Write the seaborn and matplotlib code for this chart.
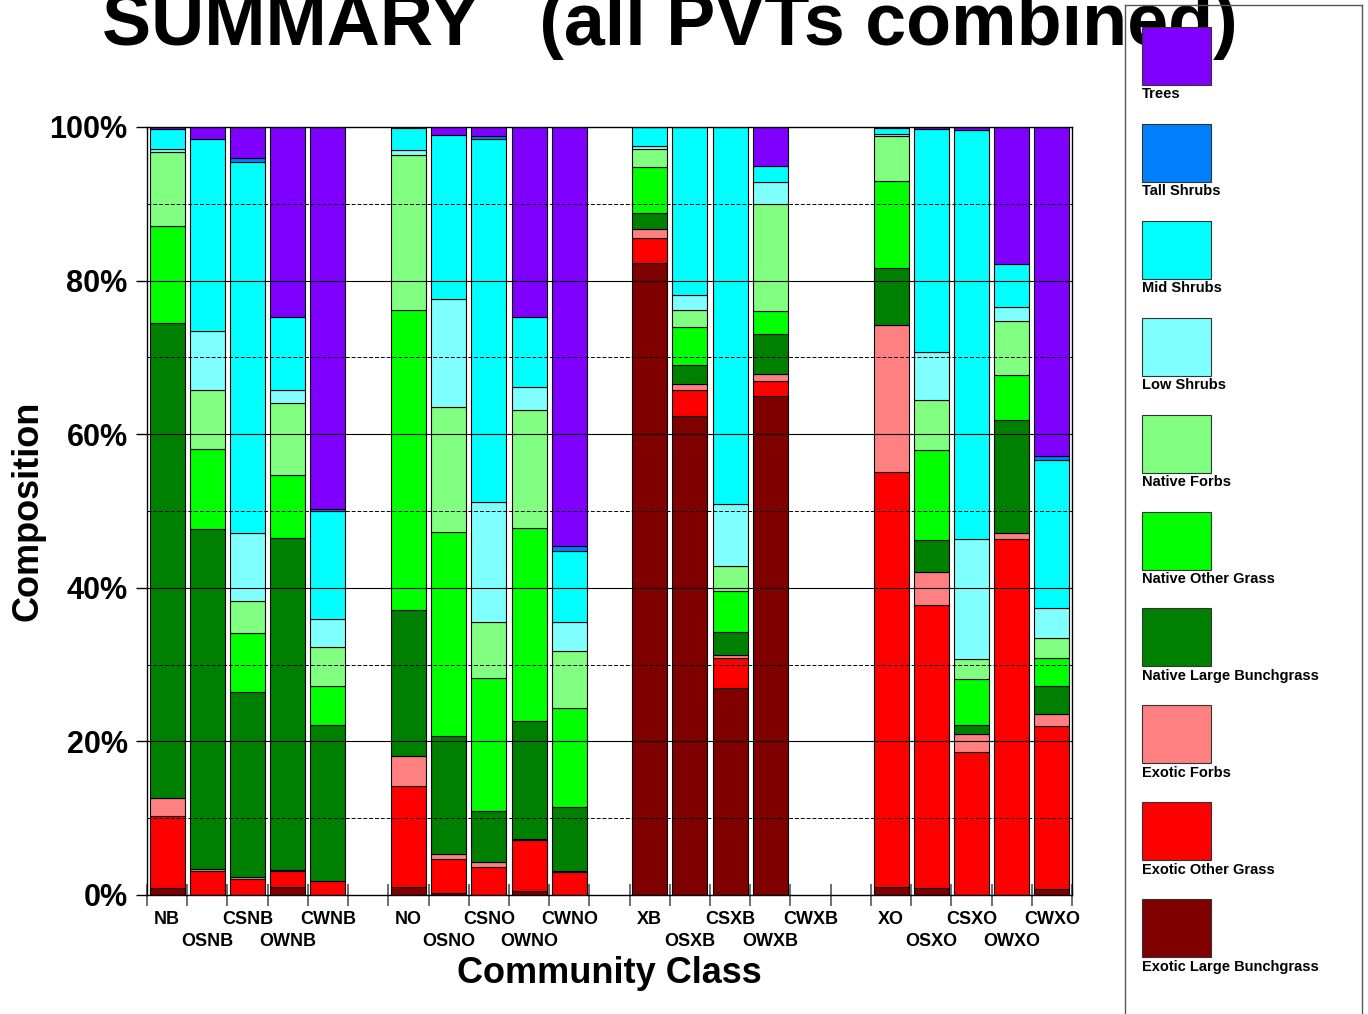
import numpy as np
import pandas as pd
import matplotlib
matplotlib.use("Agg")
import matplotlib.pyplot as plt
import seaborn as sns
from matplotlib.patches import Rectangle

# community classes, 4 groups of 5
classes = ["NB", "OSNB", "CSNB", "OWNB", "CWNB",
           "NO", "OSNO", "CSNO", "OWNO", "CWNO",
           "XB", "OSXB", "CSXB", "OWXB", "CWXB",
           "XO", "OSXO", "CSXO", "OWXO", "CWXO"]

# composition (%) per class, one list per cover type
trees        = [0.2, 1.5, 4.1, 24.8, 49.7, 0.1, 1.0, 1.2, 24.7, 54.5, 0, 0, 0, 5.1, 0, 0.1, 0.3, 0.4, 17.8, 42.9]
tall_shrubs  = [0, 0, 0.5, 0, 0.3, 0, 0, 0.3, 0, 0.7, 0, 0, 0, 0, 0, 0, 0, 0, 0, 0.5]
mid_shrubs   = [2.7, 25.1, 48.2, 9.5, 14.0, 2.9, 21.4, 47.3, 9.2, 9.2, 2.5, 21.9, 49.1, 2.0, 0, 0.8, 29.0, 53.2, 5.7, 19.2]
low_shrubs   = [0.4, 7.7, 8.9, 1.6, 3.7, 0.7, 14.1, 15.6, 2.9, 3.8, 0.3, 1.9, 8.1, 2.9, 0, 0.3, 6.3, 15.7, 1.8, 3.9]
native_forbs = [9.6, 7.6, 4.2, 9.4, 5.1, 20.1, 16.2, 7.4, 15.4, 7.4, 2.4, 2.2, 3.2, 14.0, 0, 5.8, 6.5, 2.6, 7.0, 2.7]
native_other = [12.6, 10.5, 7.7, 8.2, 5.0, 39.1, 26.6, 17.2, 25.2, 12.9, 6.0, 5.0, 5.3, 3.0, 0, 11.3, 11.7, 6.0, 5.8, 3.6]
native_large = [61.9, 44.2, 24.1, 43.2, 20.4, 19.0, 15.3, 6.7, 15.3, 8.4, 2.1, 2.5, 3.0, 5.1, 0, 7.5, 4.2, 1.2, 14.8, 3.6]
exotic_forbs = [2.3, 0.3, 0.2, 0.2, 0, 3.9, 0.7, 0.7, 0.2, 0.1, 1.1, 0.7, 0.5, 1.0, 0, 19.1, 4.3, 2.3, 0.7, 1.6]
exotic_other = [9.4, 3.1, 2.1, 2.1, 1.8, 13.2, 4.5, 3.6, 6.6, 3.0, 3.3, 3.4, 3.8, 1.9, 0, 54.0, 36.8, 18.6, 46.4, 21.2]
exotic_large = [0.9, 0, 0, 1.0, 0, 1.0, 0.2, 0, 0.5, 0, 82.3, 62.4, 27.0, 65.0, 0, 1.1, 0.9, 0, 0, 0.8]

cover_types = ["Trees", "Tall Shrubs", "Mid Shrubs", "Low Shrubs", "Native Forbs",
               "Native Other Grass", "Native Large Bunchgrass", "Exotic Forbs",
               "Exotic Other Grass", "Exotic Large Bunchgrass"]
series = [trees, tall_shrubs, mid_shrubs, low_shrubs, native_forbs,
          native_other, native_large, exotic_forbs, exotic_other, exotic_large]
colors = ["#8000FF", "#0080FF", "#00FFFF", "#80FFFF", "#80FF80",
          "#00FF00", "#008000", "#FF8080", "#FF0000", "#800000"]

sns.set_theme(style="white")
plt.rcParams["font.family"] = ["Liberation Sans", "DejaVu Sans"]
plt.rcParams["font.weight"] = "bold"
plt.rcParams["text.color"] = "black"
plt.rcParams["axes.labelcolor"] = "black"
plt.rcParams["xtick.color"] = "black"
plt.rcParams["ytick.color"] = "black"

# slot positions: one empty slot between groups
pos = [(i // 5) * 6 + i % 5 for i in range(len(classes))]

rows = []
for name, vals in zip(cover_types, series):
    for c, p, v in zip(classes, pos, vals):
        rows.append({"cls": c, "pos": p, "cover": name, "value": v})
df = pd.DataFrame(rows)

fig = plt.figure(figsize=(13.68, 10.14), dpi=100)
ax = fig.add_axes([147 / 1368, 1 - 895 / 1014, 925 / 1368, 768 / 1014])

sns.histplot(data=df, x="pos", weights="value", hue="cover", hue_order=cover_types,
             palette=dict(zip(cover_types, colors)), multiple="stack", discrete=True,
             shrink=0.87, edgecolor="black", linewidth=0.8, alpha=1, legend=False, ax=ax)

# drop empty bars
for p in list(ax.patches):
    if p.get_height() <= 0:
        p.remove()

ax.set_xlim(-0.5, 22.5)
ax.set_ylim(0, 100)

# grid on top of bars
for y in range(10, 100, 10):
    if y % 20 == 0:
        ax.axhline(y, color="black", lw=0.8, zorder=5)
    else:
        ax.axhline(y, color="black", lw=0.7, ls=(0, (4, 2)), zorder=5)

for s in ax.spines.values():
    s.set_color("black")
    s.set_linewidth(1.0)

ax.set_yticks(range(0, 101, 20))
ax.set_yticklabels([f"{v}%" for v in range(0, 101, 20)], fontsize=22, fontweight="bold")
ax.tick_params(axis="y", direction="out", length=8, width=1, color="black", pad=6, left=True)

# staggered class labels: top row on major ticks, bottom row on minor ticks
top_idx = [i for i in range(len(classes)) if (i % 5) % 2 == 0]
bot_idx = [i for i in range(len(classes)) if (i % 5) % 2 == 1]
ax.set_xticks([pos[i] for i in top_idx])
ax.set_xticklabels([classes[i] for i in top_idx], fontsize=13, fontweight="bold")
ax.set_xticks([pos[i] for i in bot_idx], minor=True)
ax.set_xticklabels([classes[i] for i in bot_idx], minor=True, fontsize=13, fontweight="bold")
ax.tick_params(axis="x", which="major", length=0, pad=11.5)
ax.tick_params(axis="x", which="minor", length=0, pad=27.5, bottom=True)

# slot boundary tick marks
sec = ax.secondary_xaxis("bottom")
sec.set_xticks(np.arange(-0.5, 23, 1))
sec.set_xticklabels([])
sec.tick_params(direction="inout", length=16, width=1.2, color="#555555")
sec.spines["bottom"].set_visible(False)

ax.set_xlabel("Community Class", fontsize=26, fontweight="bold")
ax.set_ylabel("Composition", fontsize=26, fontweight="bold")
ax.xaxis.set_label_coords(0.5, -0.08)
ax.yaxis.set_label_coords(-0.11, 0.5)

fig.text(670 / 1368, 1 - 45 / 1014, "SUMMARY   (all PVTs combined)", ha="center",
         va="baseline", fontsize=53, fontweight="bold")

# legend panel
lax = fig.add_axes([1125 / 1368, 0, 237 / 1368, 1009 / 1014])
lax.set_xlim(1125, 1362)
lax.set_ylim(1014, 5)
lax.set_xticks([])
lax.set_yticks([])
lax.patch.set_alpha(0)
lax.set_zorder(5)
for k, s in lax.spines.items():
    s.set_color("#555555")
    s.set_linewidth(1.0)
lax.spines["bottom"].set_visible(False)
for k, (name, col) in enumerate(zip(cover_types, colors)):
    top = 27 + k * 96.9
    lax.add_patch(Rectangle((1142, top), 69, 58, facecolor=col, edgecolor="#333333", lw=0.8))
    lax.text(1142, 94 + k * 97.0, name, ha="left", va="center", fontsize=10.5,
             fontweight="bold")

fig.savefig("out.png", dpi=100)
